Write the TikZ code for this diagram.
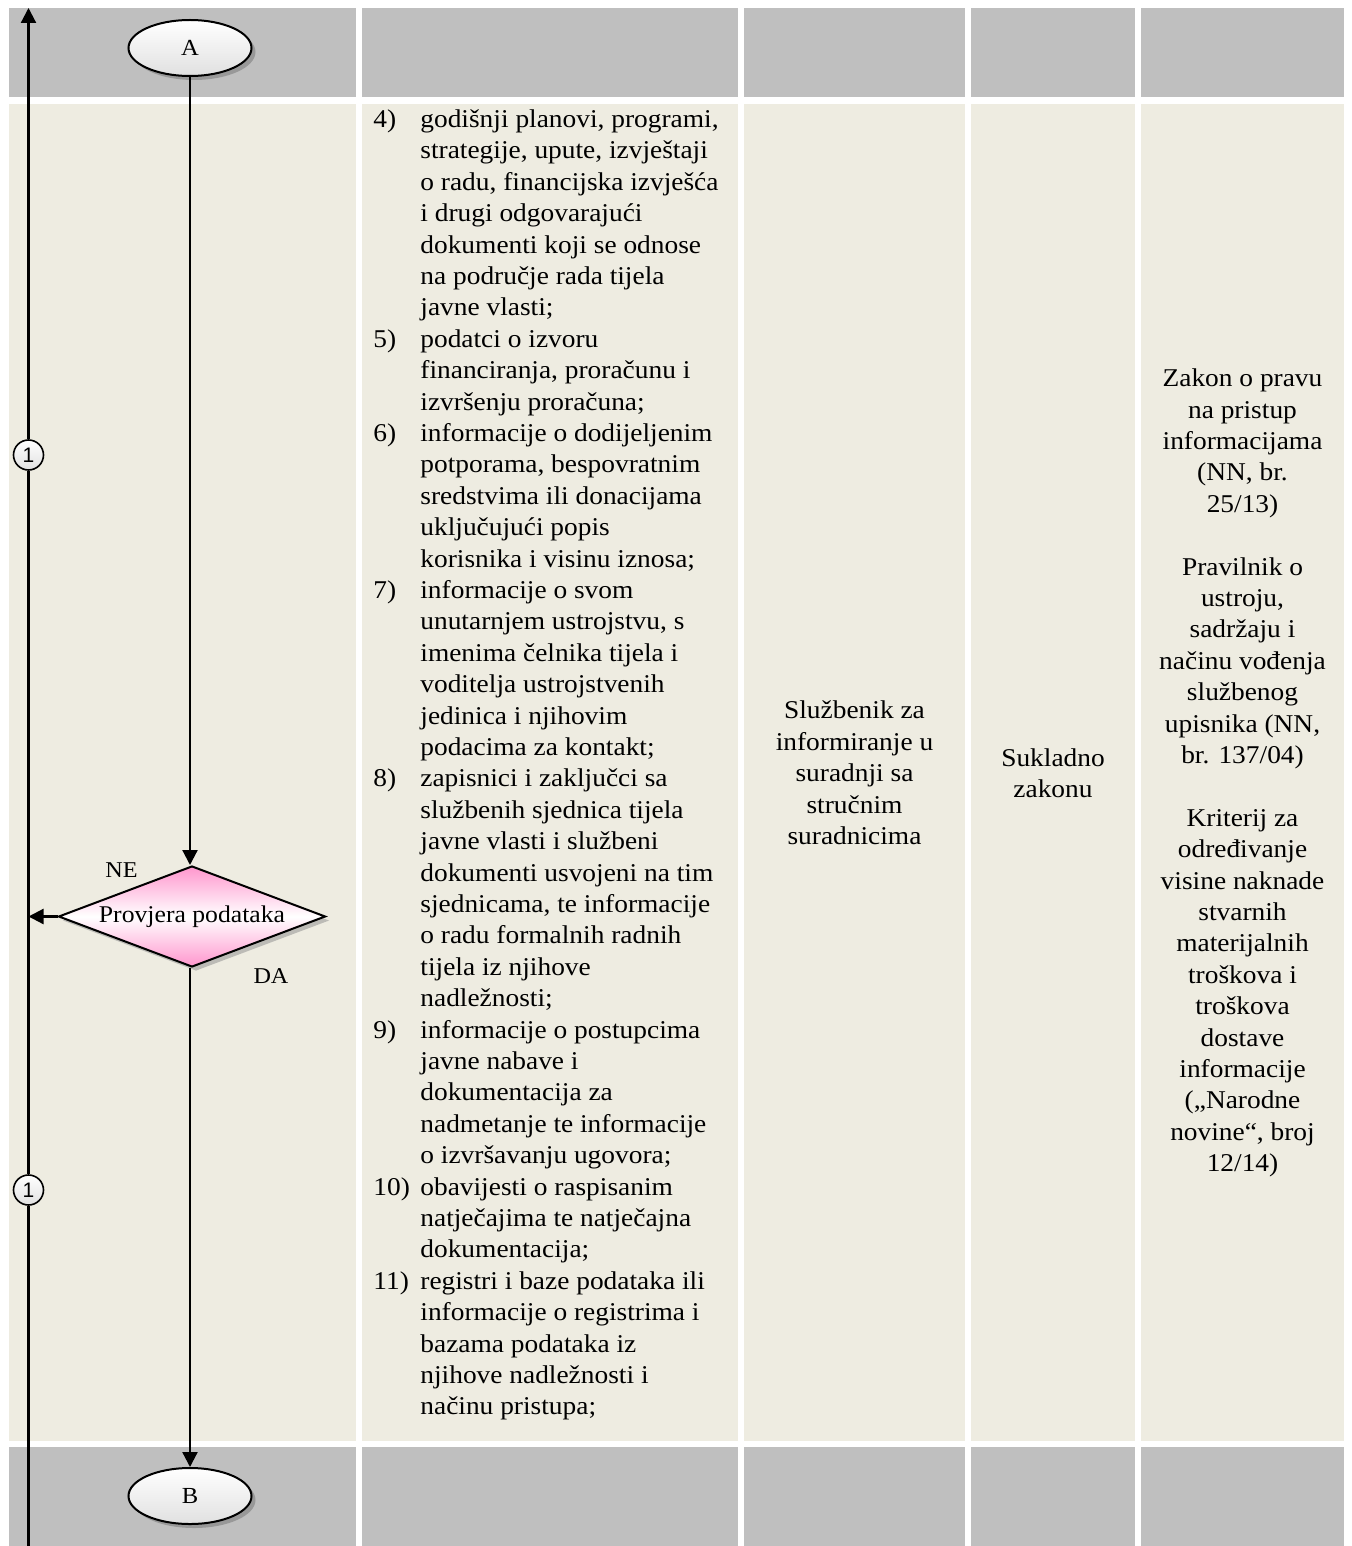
\documentclass[tikz,border=0pt]{standalone}
\usepackage{fontspec}
\setmainfont{Liberation Serif}[FakeStretch=1.07]
\newfontfamily\arialf{Liberation Sans}
\usetikzlibrary{shapes.geometric,arrows.meta,shadows}
\definecolor{hdrc}{HTML}{BFBFBF}
\definecolor{bodyc}{HTML}{EEECE1}
\definecolor{pinkc}{RGB}{255,150,205}
\newcommand\bodyfnt{\fontsize{12.8}{15.7}\selectfont}
\begin{document}
\begin{tikzpicture}[x=0.5pt,y=-0.5pt,
  hdrcell/.style={fill=hdrc},
  bodycell/.style={fill=bodyc},
  arr/.style={line width=1.1pt,-{Triangle[length=7.5pt,width=7.5pt]}},
  plainln/.style={line width=1.1pt},
  term/.style={ellipse,draw,line width=1pt,minimum width=61.5pt,minimum height=28pt,inner sep=0pt,
    top color=white,bottom color=black!12,
    drop shadow={shadow xshift=2pt,shadow yshift=-2pt,fill=black!55},
    font=\fontsize{11.5}{13}\selectfont},
  decis/.style={diamond,draw,line width=1pt,aspect=2.6,minimum width=133.5pt,minimum height=50.5pt,inner sep=0pt,
    top color=pinkc,bottom color=pinkc,middle color=white,
    drop shadow={shadow xshift=2pt,shadow yshift=-2pt,fill=black!45},
    font=\fontsize{12}{13}\selectfont},
  conn/.style={circle,draw,line width=0.8pt,minimum size=15pt,inner sep=0pt,
    top color=white,bottom color=black!12,font=\arialf\fontsize{10.5}{12}\selectfont},
  lbl/.style={inner sep=0pt,font=\fontsize{11.3}{13}\selectfont},
  coltxt/.style={inner sep=0pt,align=center,font=\bodyfnt}
]
\useasboundingbox (0,0) rectangle (1352,1546);
\fill[white] (0,0) rectangle (1352,1546);
% header row
\fill[hdrcell] (9,8) rectangle (356,97);
\fill[hdrcell] (362,8) rectangle (738,97);
\fill[hdrcell] (744,8) rectangle (965,97);
\fill[hdrcell] (971,8) rectangle (1135,97);
\fill[hdrcell] (1141,8) rectangle (1344,97);
% body row
\fill[bodycell] (9,104) rectangle (356,1441);
\fill[bodycell] (362,104) rectangle (738,1441);
\fill[bodycell] (744,104) rectangle (965,1441);
\fill[bodycell] (971,104) rectangle (1135,1441);
\fill[bodycell] (1141,104) rectangle (1344,1441);
% footer row
\fill[hdrcell] (9,1447) rectangle (356,1546);
\fill[hdrcell] (362,1447) rectangle (738,1546);
\fill[hdrcell] (744,1447) rectangle (965,1546);
\fill[hdrcell] (971,1447) rectangle (1135,1546);
\fill[hdrcell] (1141,1447) rectangle (1344,1546);

% flow nodes
\node[term] (A) at (190,48) {A};
\node[decis] (D) at (192,916.5) {Provjera podataka};
\node[term] (B) at (190,1496) {B};
\node[conn] (c1) at (28.5,455) {1};
\node[conn] (c2) at (28.5,1190) {1};
\coordinate (ltop) at (28.5,8);
\coordinate (lbot) at (28.5,1546);

\draw[arr] (A.south) -- (A.south |- D.north);
\draw[arr] (D.south -| B.north) -- (B.north);
\draw[arr] (D.west) -- (D.west -| ltop);
\draw[plainln] (lbot) -- (c2.south);
\draw[plainln] (c2.north) -- (c1.south);
\draw[arr] (c1.north) -- (ltop);

\node[lbl] (ne) at (121.5,870) {NE};
\node[lbl] (da) at (271,976) {DA};

% column 2 list
\node[anchor=west,inner sep=0pt,font=\bodyfnt] (list) at (373,765) {%
\begin{tabular}{@{}p{23.5pt}@{}l@{}}
4) & godišnji planovi, programi,\\
 & strategije, upute, izvještaji\\
 & o radu, financijska izvješća\\
 & i drugi odgovarajući\\
 & dokumenti koji se odnose\\
 & na područje rada tijela\\
 & javne vlasti;\\
5) & podatci o izvoru\\
 & financiranja, proračunu i\\
 & izvršenju proračuna;\\
6) & informacije o dodijeljenim\\
 & potporama, bespovratnim\\
 & sredstvima ili donacijama\\
 & uključujući popis\\
 & korisnika i visinu iznosa;\\
7) & informacije o svom\\
 & unutarnjem ustrojstvu, s\\
 & imenima čelnika tijela i\\
 & voditelja ustrojstvenih\\
 & jedinica i njihovim\\
 & podacima za kontakt;\\
8) & zapisnici i zaključci sa\\
 & službenih sjednica tijela\\
 & javne vlasti i službeni\\
 & dokumenti usvojeni na tim\\
 & sjednicama, te informacije\\
 & o radu formalnih radnih\\
 & tijela iz njihove\\
 & nadležnosti;\\
9) & informacije o postupcima\\
 & javne nabave i\\
 & dokumentacija za\\
 & nadmetanje te informacije\\
 & o izvršavanju ugovora;\\
10) & obavijesti o raspisanim\\
 & natječajima te natječajna\\
 & dokumentacija;\\
11) & registri i baze podataka ili\\
 & informacije o registrima i\\
 & bazama podataka iz\\
 & njihove nadležnosti i\\
 & načinu pristupa;
\end{tabular}};

% column 3
\node[coltxt] (who) at (854.5,773) {Službenik za\\informiranje u\\suradnji sa\\stručnim\\suradnicima};
% column 4
\node[coltxt] (when) at (1053,773) {Sukladno\\zakonu};
% column 5
\node[coltxt] (law) at (1242.5,773) {Zakon o pravu\\na pristup\\informacijama\\(NN, br.\\25/13)\\[15.7pt]Pravilnik o\\ustroju,\\sadržaju i\\načinu vođenja\\službenog\\upisnika (NN,\\br. 137/04)\\[15.7pt]Kriterij za\\određivanje\\visine naknade\\stvarnih\\materijalnih\\troškova i\\troškova\\dostave\\informacije\\(„Narodne\\novine“, broj\\12/14)};
\end{tikzpicture}
\end{document}
